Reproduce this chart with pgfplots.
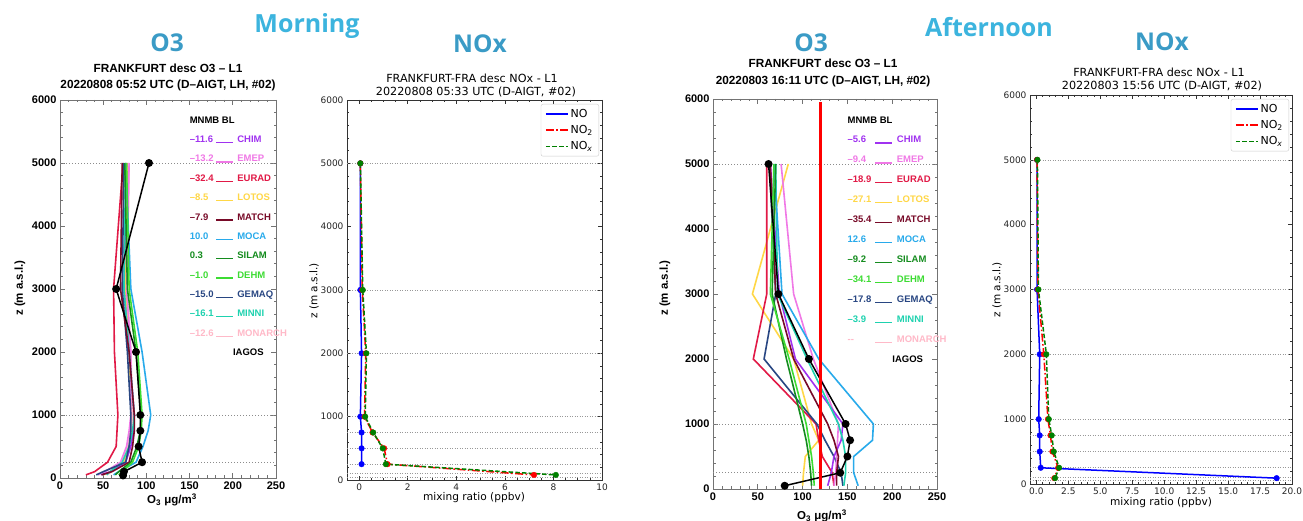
\documentclass[border=0pt]{standalone}
\usepackage{fontspec}
\usepackage{pgfplots}
\pgfplotsset{compat=1.18}
\setmainfont{Liberation Sans}
\newfontfamily\idl{Liberation Sans}
\newfontfamily\mpl{DejaVu Sans}
\newfontfamily\hdf{Open Sans}
\definecolor{hdr}{RGB}{60,180,222}
\definecolor{sub}{RGB}{58,155,198}
\definecolor{cCHIM}{RGB}{160,50,240}
\definecolor{cEMEP}{RGB}{240,120,230}
\definecolor{cEURAD}{RGB}{225,25,70}
\definecolor{cLOTOS}{RGB}{255,215,70}
\definecolor{cMATCH}{RGB}{120,10,40}
\definecolor{cMOCA}{RGB}{40,170,235}
\definecolor{cSILAM}{RGB}{20,140,30}
\definecolor{cDEHM}{RGB}{60,220,50}
\definecolor{cGEMAQ}{RGB}{40,70,130}
\definecolor{cMINNI}{RGB}{30,210,175}
\definecolor{cMONARCH}{RGB}{255,185,200}
\definecolor{mb}{RGB}{0,0,255}
\definecolor{mr}{RGB}{255,0,0}
\definecolor{mg}{RGB}{0,128,0}
\newcommand\lgfont{\idl\bfseries\fontsize{9.5}{11}\selectfont}
\newcommand\lgitem[4]{%
  \node[anchor=base west,inner sep=0pt,text=#1,font=\lgfont] at (axis cs:150,#2) {#3};
  \draw[#1,line width=1.1pt] (axis cs:181,#2) -- (axis cs:200,#2);
  \node[anchor=base west,inner sep=0pt,text=#1,font=\lgfont] at (axis cs:205,#2) {#4};}
\pgfplotsset{
 o3/.style={scale only axis, anchor=south west,
  xmin=0, xmax=250, ymin=0, ymax=6000,
  xtick={0,50,...,250}, ytick={0,1000,...,6000},
  minor x tick num=4, minor y tick num=4,
  tick align=inside, major tick length=5pt, minor tick length=2.5pt,
  axis line style={black!55, line width=0.8pt},
  tick style={black!55, line width=0.7pt},
  tick label style={font=\idl\bfseries\fontsize{11}{12}\selectfont},
  /pgf/number format/assume math mode=true,
  /pgf/number format/1000 sep={},
  extra y ticks={250,1000,5000}, extra y tick labels={},
  extra y tick style={grid=major, major grid style={black!45, dash pattern=on 1pt off 2pt, line width=0.6pt}, tick style={draw=none}},
  clip=false},
 mod/.style={line width=1.6pt},
 nox/.style={scale only axis, anchor=south west,
  ymin=0, ymax=6000, ytick={0,1000,...,6000}, minor y tick num=4,
  tick align=inside, major tick length=4pt, minor tick length=2pt,
  axis line style={black!80, line width=0.7pt},
  tick style={black!80, line width=0.6pt},
  tick label style={font=\mpl\fontsize{9}{10}\selectfont, text=black!85},
  /pgf/number format/assume math mode=true,
  /pgf/number format/1000 sep={},
  extra y ticks={50,100,250,500,750,1000,2000,3000,5000}, extra y tick labels={},
  extra y tick style={grid=major, major grid style={black!40, dash pattern=on 1pt off 1.5pt, line width=0.6pt}, tick style={draw=none}},
  legend style={at={(1,1)}, xshift=-3pt, yshift=-4pt, anchor=north east, font=\mpl\fontsize{11}{13}\selectfont, draw=black!20, fill=white, rounded corners=2pt, inner xsep=4pt, inner ysep=3pt, row sep=2.5pt, cells={anchor=west}},
  legend image code/.code={\draw[#1] (0pt,0pt) -- (22pt,0pt);},
  clip=false},
 lNO/.style={mb, line width=1.5pt},
 lNOt/.style={mr, line width=1.5pt, dash pattern=on 8pt off 2.5pt on 1.5pt off 2.5pt},
 lNOx/.style={mg, line width=1.5pt, dash pattern=on 4.5pt off 2.2pt},
}
\begin{document}
\begin{tikzpicture}
\useasboundingbox (0pt,0pt) rectangle (1303pt,521pt);
\fill[white] (0pt,0pt) rectangle (1303pt,521pt);
% headers
\node[anchor=base, text=hdr, font=\hdf\bfseries\fontsize{25}{28}\selectfont] at (307pt,488pt) {Morning};
\node[anchor=base, text=hdr, font=\hdf\bfseries\fontsize{25}{28}\selectfont] at (989pt,484pt) {Afternoon};
\node[anchor=base, text=sub, font=\hdf\bfseries\fontsize{24.5}{28}\selectfont] at (167pt,469pt) {O3};
\node[anchor=base, text=sub, font=\hdf\bfseries\fontsize{24.5}{28}\selectfont] at (480pt,468pt) {NOx};
\node[anchor=base, text=sub, font=\hdf\bfseries\fontsize{24.5}{28}\selectfont] at (811pt,469pt) {O3};
\node[anchor=base, text=sub, font=\hdf\bfseries\fontsize{24.5}{28}\selectfont] at (1162pt,470pt) {NOx};
% panel titles
\node[font=\idl\bfseries\fontsize{11.8}{13}\selectfont] at (168pt,453pt) {FRANKFURT desc O3 – L1};
\node[font=\idl\bfseries\fontsize{11.8}{13}\selectfont] at (168pt,436pt) {20220808 05:52 UTC (D–AIGT, LH, \#02)};
\node[font=\idl\bfseries\fontsize{11.8}{13}\selectfont] at (823pt,458pt) {FRANKFURT desc O3 – L1};
\node[font=\idl\bfseries\fontsize{11.8}{13}\selectfont] at (823pt,440pt) {20220803 16:11 UTC (D–AIGT, LH, \#02)};
\node[font=\mpl\fontsize{11.2}{13}\selectfont] at (472pt,443pt) {FRANKFURT-FRA desc NOx - L1};
\node[font=\mpl\fontsize{11.2}{13}\selectfont] at (476pt,429pt) {20220808 05:33 UTC (D-AIGT, \#02)};
\node[font=\mpl\fontsize{11.2}{13}\selectfont] at (1159pt,449pt) {FRANKFURT-FRA desc NOx - L1};
\node[font=\mpl\fontsize{11.2}{13}\selectfont] at (1162pt,435pt) {20220803 15:56 UTC (D-AIGT, \#02)};
% axis labels
\node[rotate=90, font=\idl\bfseries\fontsize{11.5}{13}\selectfont] at (20pt,233pt) {z (m a.s.l.)};
\node[rotate=90, font=\idl\bfseries\fontsize{11.5}{13}\selectfont] at (665pt,233pt) {z (m a.s.l.)};
\node[rotate=90, font=\mpl\fontsize{10.5}{12}\selectfont] at (314pt,230pt) {z (m a.s.l.)};
\node[rotate=90, font=\mpl\fontsize{10.5}{12}\selectfont] at (997pt,231pt) {z (m a.s.l.)};
\node[font=\idl\bfseries\fontsize{11.5}{13}\selectfont] at (172pt,21pt) {O\textsubscript{3} μg/m\textsuperscript{3}};
\node[font=\idl\bfseries\fontsize{11.5}{13}\selectfont] at (822pt,5pt) {O\textsubscript{3} μg/m\textsuperscript{3}};
\node[font=\mpl\fontsize{10.6}{12}\selectfont] at (474pt,23pt) {mixing ratio (ppbv)};
\node[font=\mpl\fontsize{10.6}{12}\selectfont] at (1161pt,18pt) {mixing ratio (ppbv)};

% ---------------- Panel 1: morning O3
\begin{axis}[o3, at={(60pt,43pt)}, width=216pt, height=378pt]
\addplot[mod,cEURAD] coordinates {(73,5000)(62,3000)(63,2000)(67,1000)(66,750)(65,500)(55,250)(40,100)(30,50)};
\addplot[mod,cLOTOS] coordinates {(78,5000)(76,3000)(80,2000)(83,1000)(82,750)(80,500)(74,250)(58,100)(50,50)};
\addplot[mod,cMONARCH] coordinates {(80,5000)(78,3000)(82,2000)(84,1000)(82,750)(78,500)(72,250)(60,100)(54,50)};
\addplot[mod,cEMEP] coordinates {(80,5000)(77,3000)(82,2000)(82,1000)(80,750)(77,500)(70,250)(52,100)(44,50)};
\addplot[mod,cCHIM] coordinates {(77,5000)(74,3000)(80,2000)(86,1000)(85,750)(82,500)(76,250)(58,100)(48,50)};
\addplot[mod,cMINNI] coordinates {(76,5000)(74,3000)(80,2000)(86,1000)(84,750)(80,500)(72,250)(58,100)(54,50)};
\addplot[mod,cGEMAQ] coordinates {(74,5000)(72,3000)(78,2000)(82,1000)(82,750)(80,500)(76,250)(50,100)(42,50)};
\addplot[mod,cMATCH] coordinates {(72,5000)(70,3000)(80,2000)(86,1000)(86,750)(84,500)(80,250)(60,100)(48,50)};
\addplot[mod,cMOCA] coordinates {(76,5000)(82,3000)(95,2000)(105,1000)(102,750)(96,500)(88,250)(68,100)(62,50)};
\addplot[mod,cSILAM] coordinates {(75,5000)(78,3000)(88,2000)(94,1000)(93,750)(89,500)(82,250)(68,100)(64,50)};
\addplot[mod,cDEHM] coordinates {(77,5000)(80,3000)(90,2000)(95,1000)(94,750)(91,500)(84,250)(72,100)(68,50)};
\addplot[black, line width=1.5pt, mark=*, mark size=3.2pt] coordinates {(103,5000)(65,3000)(88,2000)(93,1000)(93,750)(91,500)(95,250)(74,100)(73,40)};
\node[anchor=base west,inner sep=0pt,font=\lgfont] at (axis cs:150,5630) {MNMB BL};
\lgitem{cCHIM}{5323}{–11.6}{CHIM}
\lgitem{cEMEP}{5016}{–13.2}{EMEP}
\lgitem{cEURAD}{4709}{–32.4}{EURAD}
\lgitem{cLOTOS}{4402}{–8.5}{LOTOS}
\lgitem{cMATCH}{4095}{–7.9}{MATCH}
\lgitem{cMOCA}{3788}{10.0}{MOCA}
\lgitem{cSILAM}{3481}{0.3}{SILAM}
\lgitem{cDEHM}{3174}{–1.0}{DEHM}
\lgitem{cGEMAQ}{2867}{–15.0}{GEMAQ}
\lgitem{cMINNI}{2560}{–16.1}{MINNI}
\lgitem{cMONARCH}{2253}{–12.6}{MONARCH}
\node[anchor=base west,inner sep=0pt,font=\lgfont] at (axis cs:200,1946) {IAGOS};
\end{axis}

% ---------------- Panel 2: morning NOx
\begin{axis}[nox, at={(347pt,41pt)}, width=255pt, height=380pt,
  xmin=-0.5, xmax=10, xtick={0,2,...,10}, minor x tick num=3]
\addplot[lNO] coordinates {(0.05,5000)(0.05,3000)(0.1,2000)(0.05,1000)(0.1,750)(0.1,500)(0.1,250)};
\addlegendentry{NO}
\addplot[lNOt] coordinates {(0.05,5000)(0.13,3000)(0.27,2000)(0.22,1000)(0.55,750)(1.03,500)(1.17,250)(7.2,80)};
\addlegendentry{NO\textsubscript{2}}
\addplot[lNOx] coordinates {(0.05,5000)(0.15,3000)(0.3,2000)(0.25,1000)(0.58,750)(0.97,500)(1.1,250)(8.1,80)};
\addlegendentry{NO\textsubscript{\itshape x}}
\addplot[only marks, mark=*, mark size=2.8pt, mb, forget plot] coordinates {(0.05,5000)(0.05,3000)(0.1,2000)(0.05,1000)(0.1,750)(0.1,500)(0.1,250)};
\addplot[only marks, mark=*, mark size=2.8pt, mr, forget plot] coordinates {(0.05,5000)(0.13,3000)(0.27,2000)(0.22,1000)(0.55,750)(1.03,500)(1.17,250)(7.2,80)};
\addplot[only marks, mark=*, mark size=2.8pt, mg, forget plot] coordinates {(0.05,5000)(0.15,3000)(0.3,2000)(0.25,1000)(0.58,750)(0.97,500)(1.1,250)(8.1,80)};
\end{axis}

% ---------------- Panel 3: afternoon O3
\begin{axis}[o3, at={(713pt,32pt)}, width=224pt, height=390pt]
\addplot[mod,cLOTOS] coordinates {(84,5000)(44,3000)(90,2000)(110,1000)(118,750)(103,500)(101,250)(100,50)};
\addplot[mod,cEURAD] coordinates {(60,5000)(60,3000)(45,2000)(115,1000)(118,750)(122,500)(133,250)(135,50)};
\addplot[mod,cGEMAQ] coordinates {(63,5000)(70,3000)(57,2000)(116,1000)(125,750)(135,500)(143,250)(145,50)};
\addplot[mod,cEMEP] coordinates {(76,5000)(90,3000)(112,2000)(140,1000)(139,750)(138,500)(137,250)(135,50)};
\addplot[mod,cCHIM] coordinates {(64,5000)(74,3000)(92,2000)(145,1000)(143,750)(135,500)(132,250)(128,50)};
\addplot[mod,cMATCH] coordinates {(64,5000)(70,3000)(90,2000)(128,1000)(135,750)(140,500)(138,250)(138,50)};
\addplot[mod,cMINNI] coordinates {(70,5000)(72,3000)(105,2000)(140,1000)(145,750)(148,500)(148,250)(146,50)};
\addplot[mod,cMOCA] coordinates {(68,5000)(77,3000)(118,2000)(179,1000)(178,750)(157,500)(157,250)(162,50)};
\addplot[mod,cSILAM] coordinates {(70,5000)(66,3000)(82,2000)(100,1000)(104,750)(107,500)(109,250)(110,50)};
\addplot[mod,cDEHM] coordinates {(68,5000)(64,3000)(85,2000)(104,1000)(107,750)(110,500)(112,250)(113,50)};
\addplot[black, line width=1.5pt, mark=*, mark size=3.2pt] coordinates {(62,5000)(73,3000)(107,2000)(148,1000)(153,750)(150,500)(142,250)(80,50)};
\addplot[mr, line width=2.6pt] coordinates {(120,0)(120,5950)};
\node[anchor=base west,inner sep=0pt,font=\lgfont] at (axis cs:150,5630) {MNMB BL};
\lgitem{cCHIM}{5323}{–5.6}{CHIM}
\lgitem{cEMEP}{5016}{–9.4}{EMEP}
\lgitem{cEURAD}{4709}{–18.9}{EURAD}
\lgitem{cLOTOS}{4402}{–27.1}{LOTOS}
\lgitem{cMATCH}{4095}{–35.4}{MATCH}
\lgitem{cMOCA}{3788}{12.6}{MOCA}
\lgitem{cSILAM}{3481}{–9.2}{SILAM}
\lgitem{cDEHM}{3174}{–34.1}{DEHM}
\lgitem{cGEMAQ}{2867}{–17.8}{GEMAQ}
\lgitem{cMINNI}{2560}{–3.9}{MINNI}
\lgitem{cMONARCH}{2253}{--}{MONARCH}
\node[anchor=base west,inner sep=0pt,font=\lgfont] at (axis cs:200,1946) {IAGOS};
\end{axis}

% ---------------- Panel 4: afternoon NOx
\begin{axis}[nox, at={(1030pt,37pt)}, width=262pt, height=389pt,
  xmin=-0.5, xmax=20, xtick={0,2.5,...,20}, minor x tick num=4,
  xticklabel style={/pgf/number format/.cd, fixed, fixed zerofill, precision=1}]
\addplot[lNO] coordinates {(0.05,5000)(0.05,3000)(0.26,2000)(0.18,1000)(0.26,750)(0.26,500)(0.34,250)(18.8,90)};
\addlegendentry{NO}
\addplot[lNOt] coordinates {(0.05,5000)(0.12,3000)(0.58,2000)(0.9,1000)(1.1,750)(1.25,500)(1.7,250)(1.4,90)};
\addlegendentry{NO\textsubscript{2}}
\addplot[lNOx] coordinates {(0.08,5000)(0.16,3000)(0.78,2000)(0.97,1000)(1.2,750)(1.36,500)(1.78,250)(1.46,90)};
\addlegendentry{NO\textsubscript{\itshape x}}
\addplot[only marks, mark=*, mark size=2.8pt, mb, forget plot] coordinates {(0.05,5000)(0.05,3000)(0.26,2000)(0.18,1000)(0.26,750)(0.26,500)(0.34,250)(18.8,90)};
\addplot[only marks, mark=*, mark size=2.8pt, mr, forget plot] coordinates {(0.05,5000)(0.12,3000)(0.58,2000)(0.9,1000)(1.1,750)(1.25,500)(1.7,250)(1.4,90)};
\addplot[only marks, mark=*, mark size=2.8pt, mg, forget plot] coordinates {(0.08,5000)(0.16,3000)(0.78,2000)(0.97,1000)(1.2,750)(1.36,500)(1.78,250)(1.46,90)};
\end{axis}
\end{tikzpicture}
\end{document}
